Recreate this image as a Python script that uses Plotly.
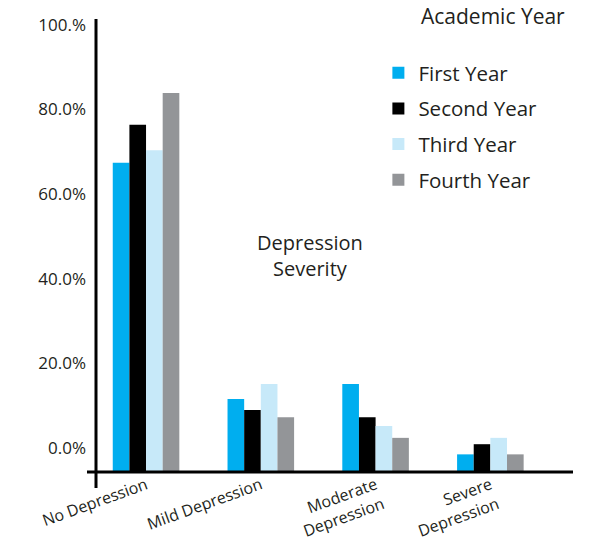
import plotly.graph_objects as go

categories = ["No Depression", "Mild Depression", "Moderate<br>Depression", "Severe<br>Depression"]
series_names = ["First Year", "Second Year", "Third Year", "Fourth Year"]
first_year = [67.4, 11.6, 15.1, -1.5]
second_year = [76.4, 9.0, 7.3, 0.9]
third_year = [70.4, 15.1, 5.2, 2.4]
fourth_year = [83.9, 7.3, 2.4, -1.5]
colors = ["#00AEEF", "#000000", "#C7E9F9", "#939598"]
tick_vals = [0, 20, 40, 60, 80, 100]
tick_text = ["0.0%", "20.0%", "40.0%", "60.0%", "80.0%", "100.%"]

Y_MIN, Y_MAX = -5.67, 101.4
FONT = "Open Sans"

fig = go.Figure()
for i, (name, vals) in enumerate(zip(series_names, [first_year, second_year, third_year, fourth_year])):
    fig.add_trace(go.Bar(
        x=categories,
        y=[v - Y_MIN for v in vals],
        base=Y_MIN,
        name=name,
        marker=dict(color=colors[i], line=dict(width=0)),
        legendgroup=name,
    ))

fig.update_layout(
    width=600, height=544,
    margin=dict(l=96, r=27, t=19, b=72, autoexpand=False),
    paper_bgcolor="white", plot_bgcolor="white",
    barmode="group", bargap=0.42, bargroupgap=0,
    font=dict(family=FONT, color="#231F20"),
    xaxis=dict(
        range=[-0.436, 3.72], showgrid=False, zeroline=False, showline=False,
        tickangle=-20, tickfont=dict(size=16), ticks="", automargin=False,
    ),
    yaxis=dict(
        range=[Y_MIN, Y_MAX], showgrid=False, zeroline=False, showline=False,
        tickvals=tick_vals, ticktext=tick_text, tickfont=dict(size=17),
        ticks="", ticklabelstandoff=9, automargin=False,
    ),
    legend=dict(
        x=0.592, y=0.925, xanchor="left", yanchor="top",
        font=dict(size=20.5), tracegroupgap=6,
        bgcolor="rgba(0,0,0,0)",
    ),
    showlegend=True,
    shapes=[
        dict(type="line", xref="paper", yref="paper", x0=0, x1=0, y0=-16/453, y1=1,
             line=dict(color="black", width=3)),
        dict(type="line", xref="paper", yref="paper", x0=-9/477, x1=1, y0=0, y1=0,
             line=dict(color="black", width=3)),
    ],
    annotations=[
        dict(text="Depression<br>Severity", xref="paper", yref="paper", x=0.449, y=0.479,
             showarrow=False, font=dict(size=20), align="center"),
        dict(text="Academic Year", xref="paper", yref="paper", x=0.985, y=1.04,
             xanchor="right", yanchor="top", showarrow=False, borderpad=0,
             font=dict(size=21)),
    ],
)

fig.write_html("out.html", config={"displayModeBar": False},
               post_script="document.body.style.margin='0';document.body.style.padding='0';")
